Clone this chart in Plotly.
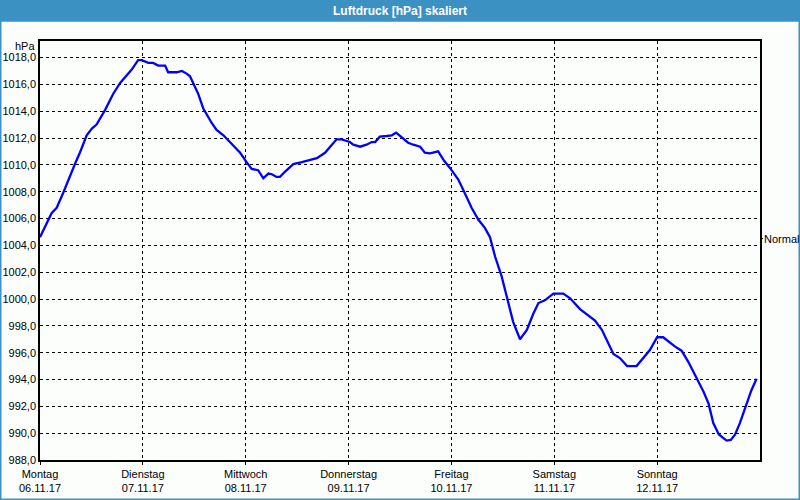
import plotly.graph_objects as go

# hours since Monday 06.11.17 00:00
hours = [0.0, 2.7, 3.9, 5.4, 8.2, 9.3, 10.9, 12.1, 13.2, 15.2, 17.1, 18.7, 21.4, 22.9, 23.7,
         25.3, 26.4, 27.6, 29.2, 29.9, 31.9, 33.1, 34.2, 35.0, 36.9, 38.1, 40.1, 41.2, 42.8,
         45.1, 46.7, 48.2, 49.4, 50.9, 52.1, 53.3, 54.1, 55.2, 56.0, 57.2, 59.1, 61.1, 63.0,
         64.6, 66.5, 68.1, 69.2, 70.4, 71.2, 72.3, 73.1, 74.7, 76.2, 77.4, 78.2, 79.3, 80.9,
         82.1, 83.1, 84.8, 85.9, 87.1, 88.7, 89.8, 91.0, 92.9, 94.3, 95.7, 97.6, 98.8, 100.7,
         102.3, 103.8, 105.0, 106.2, 107.7, 109.3, 110.4, 112.0, 113.6, 115.1, 116.3, 117.8,
         119.8, 122.1, 123.7, 126.0, 127.9, 129.5, 131.1, 133.8, 135.3, 137.0, 139.2, 140.8,
         142.3, 144.0, 145.4, 148.2, 149.7, 151.3, 153.2, 154.8, 156.0, 157.1, 158.4, 160.2,
         161.2, 162.2, 163.3, 164.9, 166.0, 167.2]
pressure = [1004.6, 1006.4, 1006.8, 1007.9, 1010.1, 1010.9, 1012.2, 1012.7, 1013.0, 1014.1,
            1015.3, 1016.1, 1017.1, 1017.8, 1017.8, 1017.6, 1017.6, 1017.4, 1017.4, 1016.9,
            1016.9, 1017.0, 1016.8, 1016.6, 1015.3, 1014.2, 1013.1, 1012.6, 1012.2, 1011.4,
            1010.9, 1010.2, 1009.7, 1009.6, 1009.0, 1009.35, 1009.3, 1009.1, 1009.1, 1009.5,
            1010.05, 1010.2, 1010.35, 1010.5, 1010.9, 1011.5, 1011.9, 1011.9, 1011.8, 1011.7,
            1011.5, 1011.35, 1011.5, 1011.7, 1011.7, 1012.1, 1012.15, 1012.2, 1012.4, 1011.9,
            1011.65, 1011.5, 1011.35, 1010.9, 1010.85, 1011.0, 1010.3, 1009.75, 1008.9, 1008.1,
            1006.8, 1005.9, 1005.3, 1004.6, 1003.15, 1001.7, 999.8, 998.3, 997.0, 997.7, 998.9,
            999.7, 999.9, 1000.4, 1000.4, 1000.05, 999.25, 998.8, 998.4, 997.7, 995.9, 995.6,
            995.0, 995.0, 995.6, 996.2, 997.15, 997.15, 996.45, 996.15, 995.3, 994.1, 993.1,
            992.2, 990.75, 989.9, 989.45, 989.5, 989.9, 990.75, 992.2, 993.2, 994.05]

day_ticks = [0, 24, 48, 72, 96, 120, 144]
day_labels = ["Montag<br>06.11.17", "Dienstag<br>07.11.17", "Mittwoch<br>08.11.17",
              "Donnerstag<br>09.11.17", "Freitag<br>10.11.17", "Samstag<br>11.11.17",
              "Sonntag<br>12.11.17"]
y_ticks = [988, 990, 992, 994, 996, 998, 1000, 1002, 1004, 1006, 1008, 1010, 1012, 1014, 1016, 1018]
normal_value = 1004.5
title_text = "Luftdruck [hPa] skaliert"

W, H = 800, 500
L, R, T, B = 40, 40, 41, 40
pw, ph = W - L - R, H - T - B

fig = go.Figure()
fig.add_trace(go.Scatter(x=hours, y=pressure, mode="lines",
                         line=dict(color="#0000ff", width=2.3), hoverinfo="skip"))

font = dict(family="Liberation Sans, Arial, sans-serif", size=11, color="#000000")

fig.update_layout(
    width=W, height=H,
    margin=dict(l=L, r=R, t=T, b=B, autoexpand=False),
    paper_bgcolor="#fcfefc", plot_bgcolor="#fcfefc",
    showlegend=False,
    separators=",.",
    font=font,
    xaxis=dict(range=[0, 168], tickvals=day_ticks, ticktext=day_labels, automargin=False,
               showgrid=True, gridcolor="#000000", griddash="3px,3px", gridwidth=1,
               showline=True, linecolor="#000000", linewidth=1.5, mirror=True,
               ticks="outside", ticklen=3, tickcolor="#000000", zeroline=False,
               tickfont=font),
    yaxis=dict(range=[988, 1019.23], tickvals=y_ticks, tickformat=".1f", automargin=False,
               showgrid=True, gridcolor="#000000", griddash="3px,3px", gridwidth=1,
               showline=True, linecolor="#000000", linewidth=1.5, mirror=True,
               ticks="", zeroline=False, tickfont=font),
)

# title bar
fig.add_shape(type="rect", xref="paper", yref="paper",
              x0=-L / pw, x1=1 + R / pw, y0=1 + (T - 21) / ph, y1=1 + T / ph,
              fillcolor="#3c91c3", line=dict(width=0), layer="above")
fig.add_annotation(text="<b>" + title_text + "</b>", xref="paper", yref="paper",
                   x=(W / 2 - L) / pw, y=1 + (T - 10.5) / ph, showarrow=False,
                   xanchor="center", yanchor="middle",
                   font=dict(family="Liberation Sans, Arial, sans-serif",
                             size=12, color="#ffffff"))
# window border
fig.add_shape(type="rect", xref="paper", yref="paper",
              x0=-(L - 0.75) / pw, x1=1 + (R - 0.75) / pw, y0=-(B - 0.75) / ph, y1=1 + (T - 21) / ph,
              line=dict(color="#3c91c3", width=1.5), fillcolor="rgba(0,0,0,0)")

# unit label
fig.add_annotation(text="hPa", xref="paper", yref="paper", x=-3 / pw, y=1 - 5 / ph,
                   showarrow=False, xanchor="right", yanchor="middle", font=font)

# Normal marker
fig.add_shape(type="line", xref="paper", yref="y", x0=1, x1=1 + 3 / pw,
              y0=normal_value, y1=normal_value, line=dict(color="#000000", width=1))
fig.add_annotation(text="Normal", xref="paper", yref="y", x=1 + 2 / pw, y=normal_value,
                   showarrow=False, xanchor="left", yanchor="middle", font=font)

fig.write_html("out.html", config={"displayModeBar": False},
               post_script="document.body.style.margin='0';document.body.style.overflow='hidden';")
